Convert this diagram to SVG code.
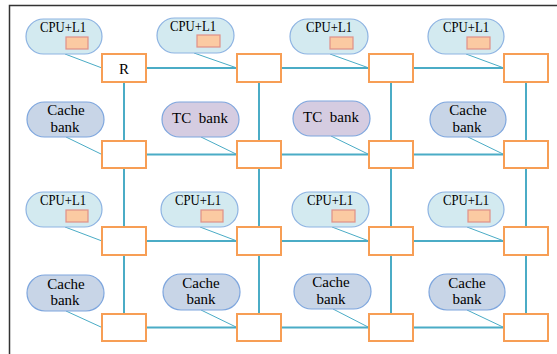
<svg xmlns="http://www.w3.org/2000/svg" width="557" height="354" viewBox="0 0 557 354">
<style>
text{font-family:"Liberation Serif","Times New Roman","DejaVu Serif",serif;font-size:15px;fill:#000;text-anchor:middle}
.cpu{fill:#d3eaf0;stroke:#8db3e2;stroke-width:1.2}
.cache{fill:#c8d5e7;stroke:#7ea6de;stroke-width:1.2}
.tc{fill:#d5cce1;stroke:#7ea6de;stroke-width:1.2}
.l1{fill:#fbcaa2;stroke:#e08f88;stroke-width:1.2}
.rt{fill:#fff;stroke:#f79e55;stroke-width:2}
.grid{stroke:#4bacc6;stroke-width:2;fill:none}
.tap{stroke:#4bacc6;stroke-width:1;fill:none}
</style>
<rect width="557" height="354" fill="#fff"/>
<path d="M9.5,354 V5.5 H557" fill="none" stroke="#333" stroke-width="1.5"/>
<g id="connectors">
<path class="grid" d="M146,68 H237 M281,68 H369 M413,68 H504 M146,154.5 H237 M281,154.5 H369 M413,154.5 H504 M146,241 H237 M281,241 H369 M413,241 H504 M146,327.5 H237 M281,327.5 H369 M413,327.5 H504"/>
<path class="grid" d="M124,82 V141 M124,168 V227 M124,255 V314 M259,82 V141 M259,168 V227 M259,255 V314 M391,82 V141 M391,168 V227 M391,255 V314 M526,82 V141 M526,168 V227 M526,255 V314"/>
<path class="tap" d="M65,54 L102,68 M194,53 L237,68 M330,54 L369,68 M466,54 L504,68 M66,137 L102,154.5 M201,137 L237,154.5 M331,136 L369,154.5 M468,137 L504,154.5 M65,227 L102,241 M200,227 L237,241 M332,227 L369,241 M467,227 L504,241 M66,311 L102,327.5 M201,310 L237,327.5 M333,309 L369,327.5 M467,310 L504,327.5"/>
</g>
<g id="r11"><rect class="rt" x="102" y="54" width="44" height="28"/><text x="124" y="74" font-size="16">R</text></g>
<g id="r12"><rect class="rt" x="237" y="54" width="44" height="28"/></g>
<g id="r13"><rect class="rt" x="369" y="54" width="44" height="28"/></g>
<g id="r14"><rect class="rt" x="504" y="54" width="44" height="28"/></g>
<g id="r21"><rect class="rt" x="102" y="141" width="44" height="27"/></g>
<g id="r22"><rect class="rt" x="237" y="141" width="44" height="27"/></g>
<g id="r23"><rect class="rt" x="369" y="141" width="44" height="27"/></g>
<g id="r24"><rect class="rt" x="504" y="141" width="44" height="27"/></g>
<g id="r31"><rect class="rt" x="102" y="227" width="44" height="28"/></g>
<g id="r32"><rect class="rt" x="237" y="227" width="44" height="28"/></g>
<g id="r33"><rect class="rt" x="369" y="227" width="44" height="28"/></g>
<g id="r34"><rect class="rt" x="504" y="227" width="44" height="28"/></g>
<g id="r41"><rect class="rt" x="102" y="314" width="44" height="27"/></g>
<g id="r42"><rect class="rt" x="237" y="314" width="44" height="27"/></g>
<g id="r43"><rect class="rt" x="369" y="314" width="44" height="27"/></g>
<g id="r44"><rect class="rt" x="504" y="314" width="44" height="27"/></g>
<g id="cpu11"><rect class="cpu" x="26" y="19" width="76" height="35" rx="17.5"/><text x="63" y="32" textLength="46" lengthAdjust="spacingAndGlyphs">CPU+L1</text><rect class="l1" x="66" y="37" width="22" height="12"/></g>
<g id="cpu12"><rect class="cpu" x="157" y="18" width="77" height="35" rx="17.5"/><text x="193" y="31" textLength="46" lengthAdjust="spacingAndGlyphs">CPU+L1</text><rect class="l1" x="197" y="35" width="23" height="12"/></g>
<g id="cpu13"><rect class="cpu" x="290" y="19" width="78" height="35" rx="17.5"/><text x="329" y="32" textLength="46" lengthAdjust="spacingAndGlyphs">CPU+L1</text><rect class="l1" x="330" y="37" width="23" height="12"/></g>
<g id="cpu14"><rect class="cpu" x="428" y="19" width="76" height="35" rx="17.5"/><text x="466" y="32" textLength="46" lengthAdjust="spacingAndGlyphs">CPU+L1</text><rect class="l1" x="467" y="37" width="23" height="12"/></g>
<g id="cache21"><rect class="cache" x="27" y="102" width="77" height="35" rx="17.5"/><text x="66" y="115">Cache</text><text x="65" y="132">bank</text></g>
<g id="tc22"><rect class="tc" x="162" y="102" width="77" height="35" rx="17.5"/><text x="200" y="123" xml:space="preserve">TC  bank</text></g>
<g id="tc23"><rect class="tc" x="293" y="101" width="77" height="35" rx="17.5"/><text x="331" y="122" xml:space="preserve">TC  bank</text></g>
<g id="cache24"><rect class="cache" x="430" y="102" width="76" height="35" rx="17.5"/><text x="468" y="115">Cache</text><text x="467" y="132">bank</text></g>
<g id="cpu31"><rect class="cpu" x="26" y="192" width="76" height="35" rx="17.5"/><text x="63" y="205" textLength="46" lengthAdjust="spacingAndGlyphs">CPU+L1</text><rect class="l1" x="66" y="210" width="22" height="12"/></g>
<g id="cpu32"><rect class="cpu" x="161" y="192" width="77" height="35" rx="17.5"/><text x="198" y="205" textLength="46" lengthAdjust="spacingAndGlyphs">CPU+L1</text><rect class="l1" x="201" y="210" width="22" height="12"/></g>
<g id="cpu33"><rect class="cpu" x="292" y="192" width="77" height="35" rx="17.5"/><text x="330" y="205" textLength="46" lengthAdjust="spacingAndGlyphs">CPU+L1</text><rect class="l1" x="332" y="210" width="23" height="12"/></g>
<g id="cpu34"><rect class="cpu" x="428" y="192" width="76" height="35" rx="17.5"/><text x="466" y="205" textLength="46" lengthAdjust="spacingAndGlyphs">CPU+L1</text><rect class="l1" x="468" y="210" width="22" height="12"/></g>
<g id="cache41"><rect class="cache" x="27" y="275" width="77" height="36" rx="18"/><text x="66" y="288.5">Cache</text><text x="65" y="305">bank</text></g>
<g id="cache42"><rect class="cache" x="163" y="274" width="77" height="36" rx="18"/><text x="201" y="287.5">Cache</text><text x="201" y="304">bank</text></g>
<g id="cache43"><rect class="cache" x="294" y="274" width="77" height="35" rx="17.5"/><text x="331" y="287">Cache</text><text x="331" y="303.5">bank</text></g>
<g id="cache44"><rect class="cache" x="429" y="274" width="76" height="36" rx="18"/><text x="467" y="287.5">Cache</text><text x="467" y="304">bank</text></g>
</svg>
